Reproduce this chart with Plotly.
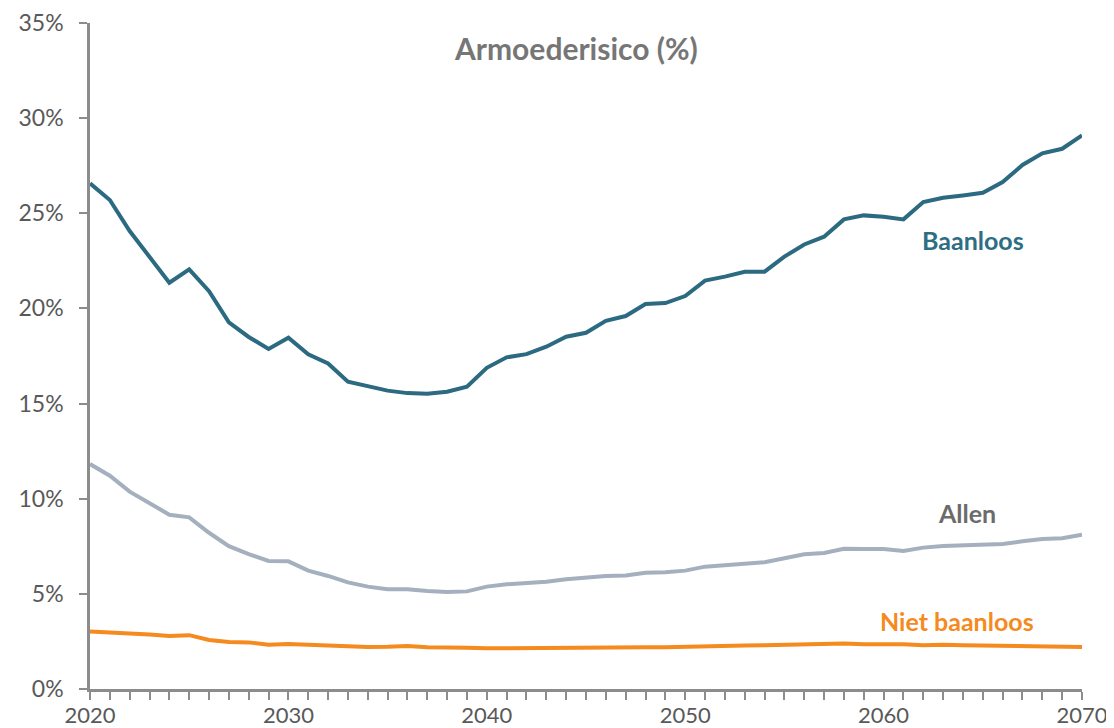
import plotly.graph_objects as go

years = list(range(2020, 2071))

baanloos = [26.57, 25.70, 24.07, 22.72, 21.35, 22.05, 20.91, 19.27, 18.50, 17.87,
            18.46, 17.59, 17.11, 16.15, 15.89, 15.68, 15.55, 15.52, 15.62, 15.89,
            16.88, 17.43, 17.60, 17.99, 18.51, 18.72, 19.35, 19.60, 20.23, 20.28,
            20.65, 21.46, 21.67, 21.93, 21.93, 22.72, 23.36, 23.77, 24.68, 24.89,
            24.82, 24.68, 25.59, 25.82, 25.94, 26.08, 26.64, 27.54, 28.15, 28.39,
            29.09]

allen = [11.82, 11.21, 10.37, 9.79, 9.16, 9.02, 8.21, 7.51, 7.09, 6.73,
         6.71, 6.22, 5.94, 5.60, 5.38, 5.24, 5.24, 5.15, 5.10, 5.13,
         5.38, 5.50, 5.55, 5.64, 5.77, 5.85, 5.94, 5.96, 6.11, 6.13,
         6.22, 6.43, 6.50, 6.60, 6.66, 6.87, 7.08, 7.15, 7.37, 7.36,
         7.36, 7.25, 7.43, 7.51, 7.53, 7.57, 7.62, 7.76, 7.88, 7.92,
         8.11]

niet_baanloos = [3.02, 2.99, 2.92, 2.87, 2.78, 2.83, 2.58, 2.47, 2.45, 2.33,
                 2.37, 2.33, 2.28, 2.24, 2.21, 2.22, 2.26, 2.20, 2.16, 2.17,
                 2.14, 2.14, 2.14, 2.15, 2.16, 2.17, 2.18, 2.19, 2.19, 2.20,
                 2.23, 2.27, 2.28, 2.29, 2.30, 2.32, 2.36, 2.40, 2.39, 2.35,
                 2.37, 2.35, 2.30, 2.33, 2.30, 2.28, 2.25, 2.23, 2.21, 2.21,
                 2.21]

y_ticks = [0, 5, 10, 15, 20, 25, 30, 35]
x_ticks = [2020, 2030, 2040, 2050, 2060, 2070]

FONT = "Lato"
fig = go.Figure()
fig.add_trace(go.Scatter(x=years, y=baanloos, mode="lines", name="Baanloos",
                         line=dict(color="#2b6a80", width=4)))
fig.add_trace(go.Scatter(x=years, y=allen, mode="lines", name="Allen",
                         line=dict(color="#a4b0be", width=4)))
fig.add_trace(go.Scatter(x=years, y=niet_baanloos, mode="lines", name="Niet baanloos",
                         line=dict(color="#f58a1f", width=4)))

fig.add_annotation(x=2044.5, y=33.7, text="<b>Armoederisico (%)</b>", showarrow=False,
                   font=dict(family=FONT, size=30, color="#767676"))
fig.add_annotation(x=2064.5, y=23.6, text="<b>Baanloos</b>", showarrow=False,
                   font=dict(family=FONT, size=25, color="#2e6e85"))
fig.add_annotation(x=2064.2, y=9.25, text="<b>Allen</b>", showarrow=False,
                   font=dict(family=FONT, size=25, color="#6b6b6b"))
fig.add_annotation(x=2063.7, y=3.57, text="<b>Niet baanloos</b>", showarrow=False,
                   font=dict(family=FONT, size=25, color="#f58a1f"))

# page body has an 8px default margin, so size/margins compensate for it
fig.update_layout(
    width=1106, height=720,
    margin=dict(l=82, r=32, t=15, b=39),
    paper_bgcolor="white", plot_bgcolor="white",
    showlegend=False,
    font=dict(family=FONT, size=23, color="#595959"),
    xaxis=dict(range=[2020, 2070], tickmode="array", tickvals=x_ticks,
               ticktext=[str(v) for v in x_ticks],
               showgrid=False, zeroline=False, automargin=False,
               showline=True, linecolor="#8c8c8c", linewidth=2.5,
               ticks="outside", ticklen=8, tickwidth=2, tickcolor="#8c8c8c",
               minor=dict(dtick=1, ticks="outside", ticklen=8, tickwidth=2, tickcolor="#8c8c8c"),
               ticklabelstandoff=-3,
               tickfont=dict(family=FONT, size=22, color="#595959")),
    yaxis=dict(range=[0, 35], tickmode="array", tickvals=y_ticks,
               ticktext=[f"{v}%" for v in y_ticks],
               showgrid=False, zeroline=False, automargin=False,
               showline=True, linecolor="#8c8c8c", linewidth=2.5,
               ticks="outside", ticklen=8, tickwidth=2, tickcolor="#8c8c8c",
               ticklabelstandoff=11,
               tickfont=dict(family=FONT, size=23, color="#595959")),
)

fig.write_html("out.html")
